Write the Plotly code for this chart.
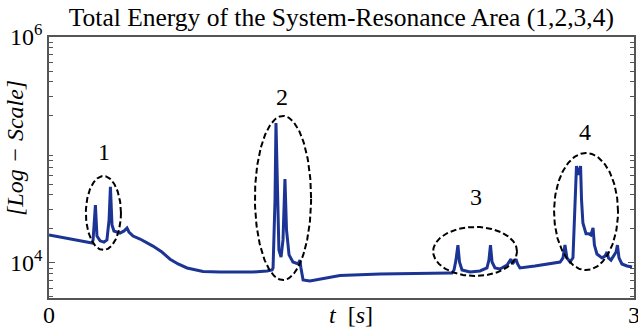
import numpy as np
import plotly.graph_objects as go

# Total energy time history (t in seconds, energy on a log scale)
t_s = [0.000, 0.056, 0.133, 0.200, 0.221, 0.226, 0.238, 0.246, 0.262, 0.282,
       0.297, 0.308, 0.315, 0.323, 0.333, 0.364, 0.385, 0.400, 0.410, 0.431,
       0.467, 0.533, 0.579, 0.621, 0.662, 0.708, 0.790, 0.877, 1.046, 1.118,
       1.144, 1.149, 1.159, 1.164, 1.172, 1.179, 1.190, 1.200, 1.210, 1.218,
       1.231, 1.251, 1.277, 1.287, 1.292, 1.303, 1.338, 1.390, 1.492, 1.697,
       1.903, 2.056, 2.067, 2.077, 2.087, 2.097, 2.105, 2.118, 2.159, 2.210,
       2.246, 2.256, 2.264, 2.272, 2.287, 2.313, 2.349, 2.359, 2.369, 2.377,
       2.385, 2.395, 2.403, 2.415, 2.492, 2.569, 2.621, 2.636, 2.646, 2.656,
       2.672, 2.687, 2.697, 2.705, 2.715, 2.726, 2.731, 2.738, 2.754, 2.769,
       2.779, 2.790, 2.797, 2.810, 2.836, 2.851, 2.862, 2.869, 2.882, 2.897,
       2.908, 2.915, 2.923, 2.938, 2.964, 2.990]
energy = [17700, 17000, 16000, 15300, 15000, 16000, 32600, 17300, 15700, 15300,
          16000, 24000, 47100, 21700, 19200, 18400, 19200, 20400, 18800, 17300,
          16300, 14100, 12500, 10800, 9800, 9030, 8400, 8320, 8320, 8500,
          8670, 9030, 36100, 173000, 36100, 13000, 11300, 16000, 55400, 19600,
          11800, 10200, 9800, 10600, 9030, 7080, 6930, 7220, 7750, 8000,
          8160, 8160, 8160, 8670, 10600, 14400, 10200, 8670, 8320, 8500,
          9030, 10600, 14400, 10200, 9030, 8850, 9600, 10200, 10800, 9800,
          10200, 10800, 9800, 9030, 9400, 9800, 10200, 11100, 14400, 11100,
          10200, 11100, 36100, 72100, 60100, 72100, 36100, 22600, 18100, 18100,
          17700, 20400, 14400, 12000, 11100, 11500, 12500, 11100, 10600, 11700,
          12500, 14400, 11100, 9800, 9400, 9220]

# Resonance areas: label, centre time, half width (s), centre log10(E), half height (decades)
area_labels = ["1", "2", "3", "4"]
area_t_center = [0.279, 1.200, 2.185, 2.754]
area_t_half = [0.090, 0.144, 0.215, 0.164]
area_log_center = [4.442, 4.575, 4.102, 4.455]
area_log_half = [0.327, 0.726, 0.217, 0.518]
# Label positions (time, log10 E)
label_t = [0.282, 1.195, 2.190, 2.749]
label_log = [4.985, 5.469, 4.584, 5.159]

serif = "Liberation Serif"
blue = "#1c3494"

fig = go.Figure()
fig.add_trace(go.Scatter(x=t_s, y=energy, mode="lines",
                         line=dict(color=blue, width=3), hoverinfo="skip"))

# Dashed ellipses around the resonance areas
theta = np.linspace(0, 2 * np.pi, 200)
for tc, th, lc, lh in zip(area_t_center, area_t_half, area_log_center, area_log_half):
    ex = tc + th * np.cos(theta)
    ey = 10 ** (lc + lh * np.sin(theta))
    fig.add_trace(go.Scatter(x=ex, y=ey, mode="lines",
                             line=dict(color="black", width=2, dash="6px,3px"),
                             hoverinfo="skip"))

for lab, lt, ll in zip(area_labels, label_t, label_log):
    fig.add_annotation(x=lt, y=ll, text=lab, showarrow=False,
                       font=dict(family=serif, size=24, color="black"))

# Axis titles
fig.add_annotation(x=-0.058, xref="paper", xanchor="center", y=0.575, yref="paper",
                   yanchor="middle", text="<i>[Log − Scale]</i>", textangle=-90,
                   showarrow=False, font=dict(family=serif, size=24, color="black"))
fig.add_annotation(x=0.516, xref="paper", xanchor="center", y=-0.065, yref="paper",
                   yanchor="middle", text="<i>t</i>  [<i>s</i>]", showarrow=False,
                   font=dict(family=serif, size=24, color="black"))

minor_vals = [v * 10 ** e for e in (3, 4, 5) for v in range(2, 10)]

fig.update_layout(
    width=638, height=331,
    margin=dict(l=49, r=4, t=37, b=33, autoexpand=False),
    paper_bgcolor="white", plot_bgcolor="white",
    showlegend=False,
    title=dict(text="Total Energy of the System-Resonance Area (1,2,3,4)",
               x=0.535, xanchor="center", y=1 - 17 / 331, yanchor="middle",
               font=dict(family=serif, size=25.5, color="black")),
    xaxis=dict(range=[0, 3], tickvals=[0, 3], ticktext=["0", "3"],
               showgrid=False, zeroline=False, showline=True, linecolor="#555",
               linewidth=1.5, mirror=True, ticks="", automargin=False,
               ticklabelstandoff=-6, ticklabeloverflow="allow",
               tickfont=dict(family=serif, size=24, color="black")),
    yaxis=dict(type="log", range=[3.69, 6], tickvals=[1e4, 1e6],
               ticktext=["10<sup>4</sup>", "10<sup>6</sup>"],
               showgrid=False, zeroline=False, showline=True, linecolor="#555",
               linewidth=1.5, mirror="allticks", ticks="inside", ticklen=6,
               tickcolor="#555", automargin=False,
               minor=dict(tickvals=minor_vals, ticks="inside", ticklen=4,
                          tickcolor="#555", showgrid=False),
               tickfont=dict(family=serif, size=24, color="black")),
)

fig.write_html("out.html")
